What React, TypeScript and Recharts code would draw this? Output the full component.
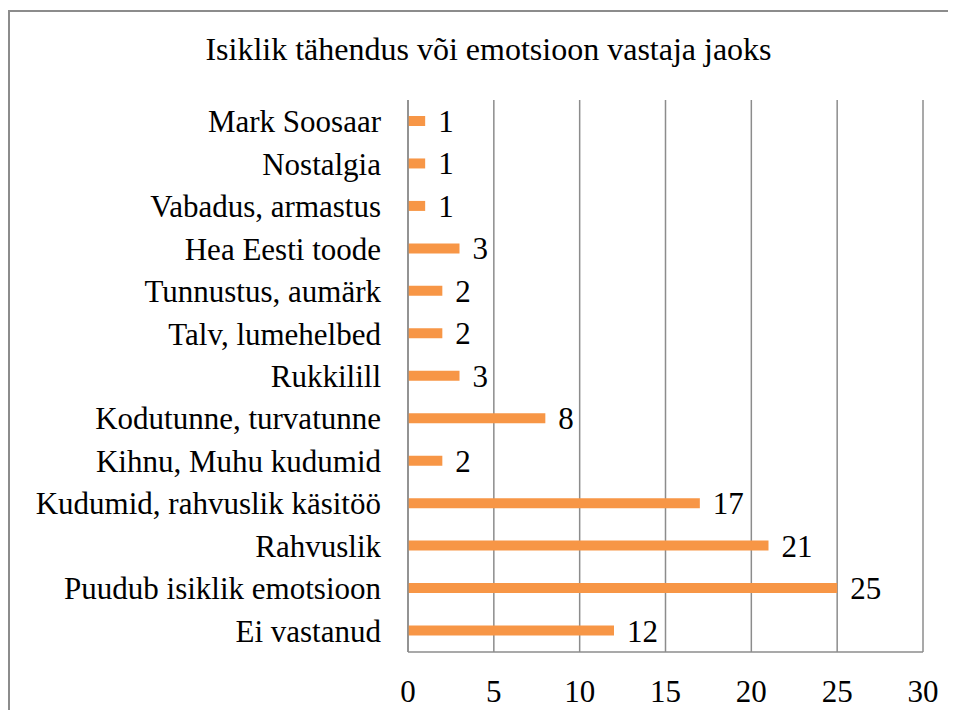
import React from 'react';
import { BarChart, Bar, XAxis, YAxis, CartesianGrid, LabelList } from 'recharts';

const categories = [
  'Mark Soosaar',
  'Nostalgia',
  'Vabadus, armastus',
  'Hea Eesti toode',
  'Tunnustus, aumärk',
  'Talv, lumehelbed',
  'Rukkilill',
  'Kodutunne, turvatunne',
  'Kihnu, Muhu kudumid',
  'Kudumid, rahvuslik käsitöö',
  'Rahvuslik',
  'Puudub isiklik emotsioon',
  'Ei vastanud',
];
const counts = [1, 1, 1, 3, 2, 2, 3, 8, 2, 17, 21, 25, 12];
const xTicks = [0, 5, 10, 15, 20, 25, 30];
const title = 'Isiklik tähendus või emotsioon vastaja jaoks';

const data = categories.map((name, i) => ({ name, value: counts[i] }));

const font = '"Liberation Serif", "Times New Roman", serif';
const gray = '#8c8c8c';

export default function App() {
  return (
    <div
      style={{
        position: 'relative',
        top: 2,
        width: 944,
        height: 700,
        borderLeft: `2px solid ${gray}`,
        borderTop: `2px solid ${gray}`,
        fontFamily: font,
      }}
    >
      <svg width={944} height={80} style={{ position: 'absolute', left: 0, top: 0 }}>
        <text x={478.5} y={48} textAnchor="middle" fontFamily={font} fontSize={32} fill="#000">
          {title}
        </text>
      </svg>
      <BarChart
        width={944}
        height={700}
        data={data}
        layout="vertical"
        margin={{ top: 88, right: 31, left: 0, bottom: 0 }}
        style={{ fontFamily: font }}
      >
        <CartesianGrid horizontal={false} stroke={gray} strokeWidth={1.5} />
        <XAxis
          type="number"
          domain={[0, 30]}
          ticks={xTicks}
          height={60}
          tickLine={false}
          tickSize={0}
          tickMargin={28}
          axisLine={{ stroke: gray, strokeWidth: 1.5 }}
          tick={{ fill: '#000', fontSize: 31, fontFamily: font }}
        />
        <YAxis
          type="category"
          dataKey="name"
          width={398}
          tickLine={false}
          tickSize={0}
          tickMargin={27}
          interval={0}
          axisLine={{ stroke: gray, strokeWidth: 1.5 }}
          tick={{ fill: '#000', fontSize: 31, fontFamily: font }}
        />
        <Bar dataKey="value" fill="#F79646" barSize={10} isAnimationActive={false}>
          <LabelList
            dataKey="value"
            position="right"
            offset={13}
            fill="#000"
            fontSize={31}
            fontFamily={font}
          />
        </Bar>
      </BarChart>
    </div>
  );
}
